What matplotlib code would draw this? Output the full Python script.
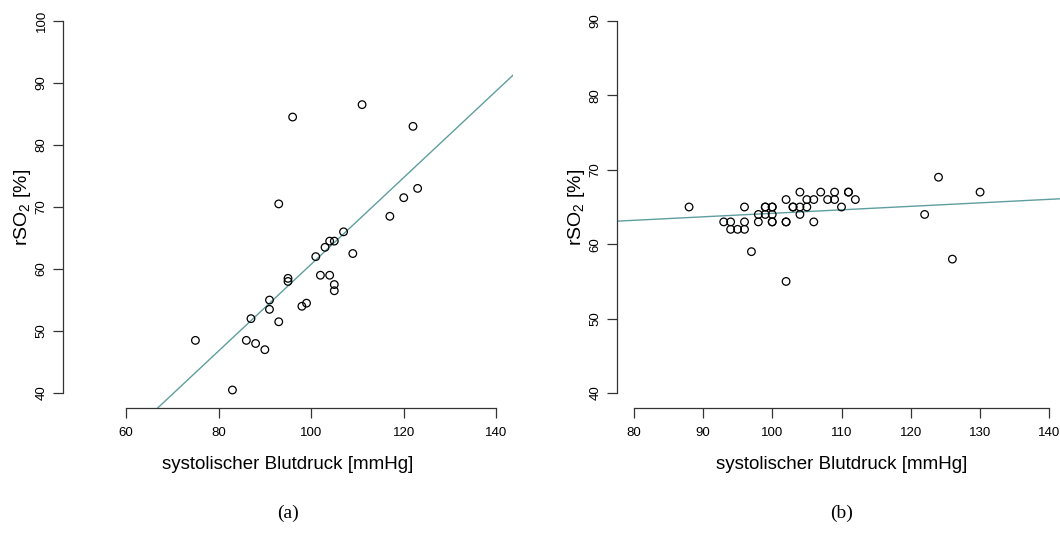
#!/usr/bin/env python3
"""
Scatter plots of rSO2 vs. systolic blood pressure with linear fit, two panels (a) and (b).
"""
import matplotlib
matplotlib.use("Agg")
import matplotlib.pyplot as plt

plt.rcParams['font.family'] = ['Liberation Sans', 'DejaVu Sans']
plt.rcParams['mathtext.fontset'] = 'custom'
plt.rcParams['mathtext.rm'] = 'Liberation Sans'

# panel (a)
bp_a = [75, 83, 86, 87, 88, 90, 91, 91, 93, 93, 95, 95, 96, 98, 99,
        101, 102, 103, 104, 104, 105, 105, 105, 107, 109, 111, 117, 120, 122, 123]
rso2_a = [48.5, 40.5, 48.5, 52, 48, 47, 55, 53.5, 51.5, 70.5, 58.5, 58, 84.5, 54, 54.5,
          62, 59, 63.5, 59, 64.5, 64.5, 57.5, 56.5, 66, 62.5, 86.5, 68.5, 71.5, 83, 73]
fit_a = (-9.13, 0.699)   # intercept, slope

# panel (b)
bp_b = [88, 93, 94, 94, 95, 96, 96, 96, 97, 98, 98, 99, 99, 99, 100, 100, 100, 100, 100,
        102, 102, 102, 102, 103, 103, 104, 104, 104, 105, 105, 106, 106, 107, 108,
        109, 109, 110, 111, 111, 112, 122, 124, 126, 130]
rso2_b = [65, 63, 63, 62, 62, 65, 63, 62, 59, 64, 63, 65, 65, 64, 65, 65, 64, 63, 63,
          66, 63, 63, 55, 65, 65, 67, 65, 64, 66, 65, 66, 63, 67, 66,
          67, 66, 65, 67, 67, 66, 64, 69, 58, 67]
fit_b = (59.45, 0.047)

xticks_a = [60, 80, 100, 120, 140]
yticks_a = [40, 50, 60, 70, 80, 90, 100]
xticks_b = [80, 90, 100, 110, 120, 130, 140]
yticks_b = [40, 50, 60, 70, 80, 90]

xlabel = "systolischer Blutdruck [mmHg]"
ylabel = r"rSO$_\mathregular{2}$ [%]"
line_color = "#5f9ea0"


def r_lim(lo, hi):
    # R-style 4% padding
    d = (hi - lo) * 0.04
    return lo - d, hi + d


def panel(ax, x, y, fit, xlim, ylim, xticks, yticks, caption):
    ax.scatter(x, y, s=30, facecolors='none', edgecolors='black', linewidths=0.9, zorder=3)
    icept, slope = fit
    ax.axline((0, icept), slope=slope, color=line_color, linewidth=1.0, zorder=2)
    ax.set_xlim(*r_lim(*xlim))
    ax.set_ylim(*r_lim(*ylim))
    ax.set_xticks(xticks)
    ax.set_yticks(yticks)
    for s in ['top', 'right']:
        ax.spines[s].set_visible(False)
    ax.spines['left'].set_bounds(yticks[0], yticks[-1])
    ax.spines['bottom'].set_bounds(xticks[0], xticks[-1])
    for s in ['left', 'bottom']:
        ax.spines[s].set_color('#333333')
        ax.spines[s].set_linewidth(0.9)
    ax.tick_params(axis='both', direction='out', length=7, width=0.9, color='#333333', labelsize=9.5)
    ax.tick_params(axis='x', pad=7)
    ax.tick_params(axis='y', pad=4)
    for lab in ax.get_yticklabels():
        lab.set_rotation(90)
        lab.set_va('center')
    ax.set_xlabel(xlabel, fontsize=13.5, labelpad=12)
    ax.set_ylabel(ylabel, fontsize=14, labelpad=2)
    ax.text(0.5, -0.261, caption, transform=ax.transAxes, ha='center', va='center',
            fontsize=14, family='Liberation Serif')


fig = plt.figure(figsize=(10.6, 5.36), dpi=100)
ax_a = fig.add_axes([63 / 1060, 128 / 536, 450 / 1060, 402 / 536])
ax_b = fig.add_axes([617 / 1060, 128 / 536, 449 / 1060, 402 / 536])

panel(ax_a, bp_a, rso2_a, fit_a, (50, 140), (40, 100), xticks_a, yticks_a, "(a)")
panel(ax_b, bp_b, rso2_b, fit_b, (80, 140), (40, 90), xticks_b, yticks_b, "(b)")

fig.savefig("out.png", dpi=100)
